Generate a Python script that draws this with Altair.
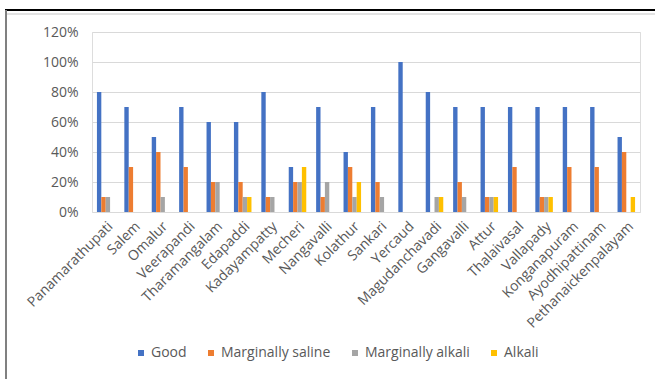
import altair as alt
import pandas as pd

places = ["Panamarathupati", "Salem", "Omalur", "Veerapandi", "Tharamangalam",
          "Edapaddi", "Kadayampatty", "Mecheri", "Nangavalli", "Kolathur",
          "Sankari", "Yercaud", "Magudanchavadi", "Gangavalli", "Attur",
          "Thalaivasal", "Vallapady", "Konganapuram", "Ayodhipattinam",
          "Pethanaickenpalayam"]
series = ["Good", "Marginally saline", "Marginally alkali", "Alkali"]
good = [80, 70, 50, 70, 60, 60, 80, 30, 70, 40, 70, 100, 80, 70, 70, 70, 70, 70, 70, 50]
saline = [10, 30, 40, 30, 20, 20, 10, 20, 10, 30, 20, 0, 0, 20, 10, 30, 10, 30, 30, 40]
m_alkali = [10, 0, 10, 0, 20, 10, 10, 20, 20, 10, 10, 0, 10, 10, 10, 0, 10, 0, 0, 0]
alkali = [0, 0, 0, 0, 0, 10, 0, 30, 0, 20, 0, 0, 10, 0, 10, 0, 10, 0, 0, 10]
colors = ["#4472C4", "#ED7D31", "#A5A5A5", "#FFC000"]

rows = []
for s, vals in zip(series, [good, saline, m_alkali, alkali]):
    for p, v in zip(places, vals):
        rows.append({"place": p, "series": s, "value": v / 100})
df = pd.DataFrame(rows)

FONT = "Open Sans"
TXT = "#595959"

bars = alt.Chart(df).mark_bar().encode(
    x=alt.X("place:N", sort=places, title=None,
            scale=alt.Scale(paddingInner=0.36, paddingOuter=0.18),
            axis=alt.Axis(labelAngle=-45, labelFont=FONT, labelFontSize=14,
                          labelColor=TXT, ticks=False, domain=False, grid=False,
                          labelPadding=7)),
    xOffset=alt.XOffset("series:N", sort=series, scale=alt.Scale(paddingInner=0, paddingOuter=0)),
    y=alt.Y("value:Q", title=None,
            scale=alt.Scale(domain=[0, 1.2], nice=False),
            axis=alt.Axis(values=[0, 0.2, 0.4, 0.6, 0.8, 1.0, 1.2], format=".0%",
                          labelFont=FONT, labelFontSize=14, labelColor=TXT,
                          ticks=False, domain=False, gridColor="#D9D9D9",
                          gridWidth=1.2, labelPadding=14)),
    color=alt.Color("series:N", sort=series,
                    scale=alt.Scale(domain=series, range=colors),
                    legend=alt.Legend(title=None, orient="none", direction="horizontal",
                                      legendX=42, legendY=314, symbolType="square",
                                      symbolSize=36, symbolStrokeWidth=0,
                                      labelFont=FONT, labelFontSize=14, labelColor=TXT,
                                      labelOffset=3, columnPadding=17, padding=0)),
)

frame = pd.DataFrame({"k": [0]})
top_line = alt.Chart(frame).mark_rule(color="#000000", strokeWidth=2, clip=False).encode(
    x=alt.value(-87), x2=alt.value(563), y=alt.value(-22))
top_line2 = alt.Chart(frame).mark_rule(color="#D9D9D9", strokeWidth=1.5, clip=False).encode(
    x=alt.value(-86), x2=alt.value(563), y=alt.value(-18))
left_line = alt.Chart(frame).mark_rule(color="#808080", strokeWidth=2, clip=False).encode(
    x=alt.value(-86), y=alt.value(-22), y2=alt.value(347))

chart = alt.layer(bars, top_line, top_line2, left_line).properties(
    width=548, height=180,
    autosize=alt.AutoSizeParams(type="none"),
    padding={"left": 92, "top": 32, "right": 15, "bottom": 167},
).configure_view(stroke=None).configure(background="white")

chart.save("out.html", embed_options={"renderer": "svg", "actions": False})
